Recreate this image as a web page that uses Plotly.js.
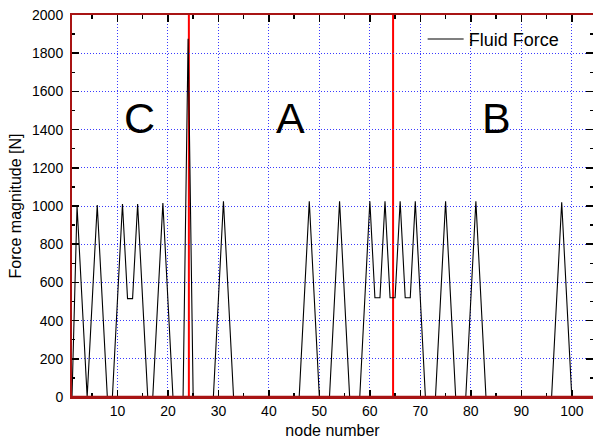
<!DOCTYPE html>
<html>
<head>
<meta charset="utf-8">
<script src="https://cdn.plot.ly/plotly-3.0.1.min.js"></script>
<style>html,body{margin:0;padding:0;background:#fff;}#chart{width:593px;height:443px;}</style>
</head>
<body>
<div id="chart"></div>
<script>
// Node numbers at the corners of the force trace and the force read there
var nodes = [1,2,4,6,8,9,11,12,13,14,16,17,19,21,23,24,25,29,31,33,46,48,50,52,54,56,58,60,61,62,63,64,65,66,67,68,69,71,73,75,77,79,81,83,96,98,100];
var force = [0,1000,0,1005,0,0,1010,515,515,1010,0,0,1015,0,0,1875,0,0,1025,0,0,1025,0,0,1025,0,0,1025,520,520,1025,520,520,1025,520,520,1025,0,0,1025,0,0,1025,0,0,1020,0];
var seriesName = 'Fluid Force';
// Region dividers (node number)
var dividers = [24.15, 64.6];
// Region labels
var regionLabels = ['C', 'A', 'B'];
var regionX = [14.3, 44.2, 85.0];
var regionY = [1460, 1460, 1460];
var xTitle = 'node number';
var yTitle = 'Force magnitude [N]';

var FONT = 'Arial, "Liberation Sans", sans-serif';
var frameColor = '#a81414';

var traces = [{
  x: nodes, y: force, type: 'scatter', mode: 'lines', name: seriesName,
  line: {color: '#000000', width: 1.1}, showlegend: true
}];

var shapes = dividers.map(function(d){
  return {type:'line', xref:'x', yref:'paper', x0:d, x1:d, y0:0, y1:1, layer:'below',
          line:{color:'#ff0000', width:2}};
});
// bottom frame drawn over the zero-level trace, as in the reference
shapes.push({type:'line', xref:'paper', yref:'paper', x0:0, x1:1, y0:0, y1:0, layer:'above',
             line:{color:frameColor, width:2.5}});

var annotations = regionLabels.map(function(t,i){
  return {text:t, x:regionX[i], y:regionY[i], xref:'x', yref:'y', showarrow:false,
          font:{family:FONT, size:43, color:'#000'}};
});

var axisCommon = {
  showline:true, linecolor:frameColor, linewidth:2, mirror:'allticks',
  ticks:'inside', tickcolor:'#000', tickwidth:1.5, ticklen:7,
  showgrid:true, gridcolor:'#3a3aff', griddash:'1px,2px', gridwidth:1,
  zeroline:false, tickfont:{family:FONT, size:14, color:'#000'}
};

var layout = {
  width:593, height:443,
  margin:{l:71.5, r:0, t:15, b:46, pad:0},
  paper_bgcolor:'#fff', plot_bgcolor:'#fff',
  font:{family:FONT, color:'#000'},
  xaxis: Object.assign({}, axisCommon, {
    range:[1, 104.2], dtick:10, tick0:0,
    minor:{ticks:'inside', dtick:5, tick0:0, ticklen:4, tickcolor:'#000', tickwidth:1.5, showgrid:false},
    title:{text:xTitle, font:{family:FONT, size:16, color:'#000'}, standoff:7}
  }),
  yaxis: Object.assign({}, axisCommon, {
    range:[0, 2000], dtick:200, tick0:0,
    minor:{ticks:'inside', dtick:100, tick0:0, ticklen:3, tickcolor:'#000', tickwidth:1.5, showgrid:false},
    ticklabelstandoff:4,
    title:{text:yTitle, font:{family:FONT, size:16, color:'#000'}, standoff:6}
  }),
  showlegend:true,
  legend:{x:0.673, y:0.985, xanchor:'left', yanchor:'top', bgcolor:'rgba(255,255,255,0)',
          borderwidth:0, font:{family:FONT, size:18, color:'#000'}, itemwidth:36},
  shapes:shapes,
  annotations:annotations
};

Plotly.newPlot('chart', traces, layout, {displayModeBar:false, staticPlot:true});
</script>
</body>
</html>
